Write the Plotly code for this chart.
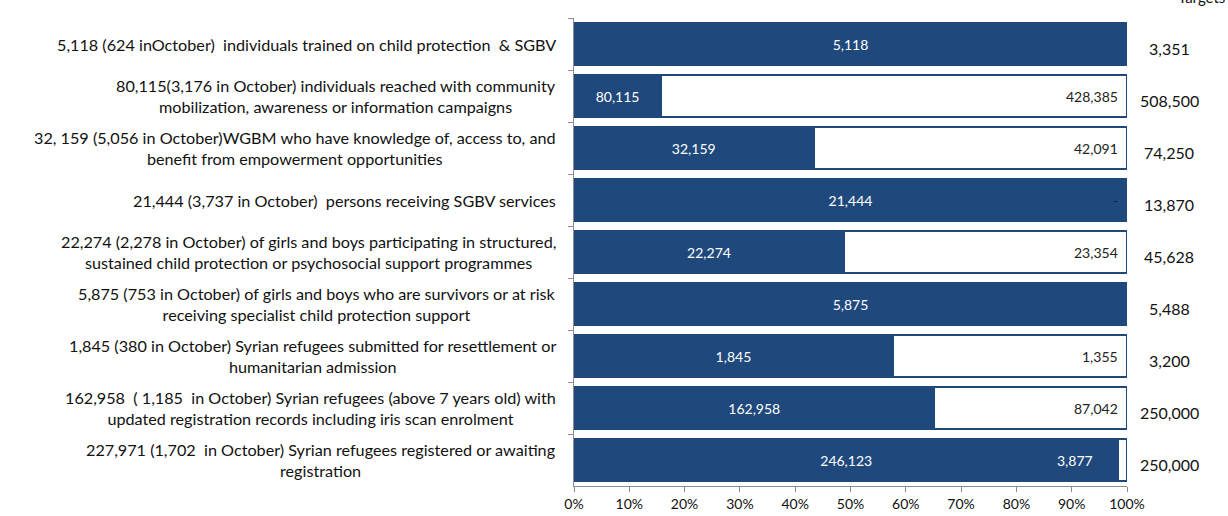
import plotly.graph_objects as go

categories = [
    "5,118 (624 inOctober)  individuals trained on child protection  & SGBV",
    "80,115(3,176 in October) individuals reached with community<br>mobilization, awareness or information campaigns",
    "32, 159 (5,056 in October)WGBM who have knowledge of, access to, and<br>benefit from empowerment opportunities",
    "21,444 (3,737 in October)  persons receiving SGBV services",
    "22,274 (2,278 in October) of girls and boys participating in structured,<br>sustained child protection or psychosocial support programmes",
    "5,875 (753 in October) of girls and boys who are survivors or at risk<br>receiving specialist child protection support",
    "1,845 (380 in October) Syrian refugees submitted for resettlement or<br>humanitarian admission",
    "162,958  ( 1,185  in October) Syrian refugees (above 7 years old) with<br>updated registration records including iris scan enrolment",
    "227,971 (1,702  in October) Syrian refugees registered or awaiting<br>registration",
]
achieved = [5118, 80115, 32159, 21444, 22274, 5875, 1845, 162958, 246123]
remaining = [0, 428385, 42091, 0, 23354, 0, 1355, 87042, 3877]
remaining_labels = ["", "428,385", "42,091", "-", "23,354", "", "1,355", "87,042", "3,877"]
targets = ["3,351", "508,500", "74,250", "13,870", "45,628", "5,488", "3,200", "250,000", "250,000"]
x_ticks = [0, 10, 20, 30, 40, 50, 60, 70, 80, 90, 100]

BLUE = "#1F497D"
FONT = "Lato"

fig = go.Figure()
fig.add_trace(go.Bar(
    y=categories, x=achieved, orientation="h",
    marker=dict(color=BLUE, line=dict(color=BLUE, width=1.5)),
    text=[f"{v:,}" for v in achieved], textposition="inside",
    insidetextanchor="middle", textangle=0,
    textfont=dict(color="white", size=14, family=FONT),
    hoverinfo="skip",
))
fig.add_trace(go.Bar(
    y=categories, x=remaining, orientation="h",
    marker=dict(color="white", line=dict(color=BLUE, width=2)),
    textposition="none", hoverinfo="skip",
))

annotations = []
for cat in categories:
    annotations.append(dict(
        x=0, xref="paper", y=cat, yref="y", text=cat, showarrow=False,
        xanchor="right", align="center", xshift=-16,
        font=dict(size=16.2, color="#111111", family=FONT),
    ))
for cat, a, r, lab in zip(categories, achieved, remaining, remaining_labels):
    if not lab:
        continue
    pct = 100.0 * r / (a + r)
    small = 0 < pct < 5
    annotations.append(dict(
        x=100, xref="x", y=cat, yref="y", text=lab, showarrow=False,
        xanchor="right", xshift=-32 if small else -7,
        font=dict(size=14, color="white" if small else "#222222", family=FONT),
    ))
for cat, t in zip(categories, targets):
    annotations.append(dict(
        x=1, xref="paper", y=cat, yref="y", text=t, showarrow=False,
        xanchor="center", xshift=42, yshift=-4,
        font=dict(size=16, color="#111111", family=FONT),
    ))
annotations.append(dict(
    x=1, xref="paper", y=1.022, yref="paper", text="Targets", showarrow=False,
    xanchor="right", yanchor="bottom", xshift=100,
    font=dict(size=15, color="#111111", family=FONT),
))

fig.update_layout(
    width=1228, height=516,
    barmode="stack", barnorm="percent", bargap=0.2,
    margin=dict(l=574, r=101, t=18, b=30, autoexpand=False),
    paper_bgcolor="white", plot_bgcolor="white",
    showlegend=False,
    annotations=annotations,
    xaxis=dict(
        range=[0, 100], tickmode="array", tickvals=x_ticks,
        ticktext=[f"{v}%" for v in x_ticks], automargin=False,
        showgrid=False, zeroline=False, showline=True, linecolor="#8C8C8C",
        ticks="outside", ticklen=5, tickcolor="#8C8C8C",
        tickfont=dict(size=14, color="#111111", family=FONT),
    ),
    yaxis=dict(
        type="category", autorange="reversed", automargin=False,
        showticklabels=False, showgrid=False, zeroline=False,
        showline=True, linecolor="#8C8C8C",
        ticks="outside", ticklen=5, tickcolor="#8C8C8C", tickson="boundaries",
    ),
)

fig.write_html("out.html", config={"displayModeBar": False},
               post_script="document.body.style.margin='0';")
